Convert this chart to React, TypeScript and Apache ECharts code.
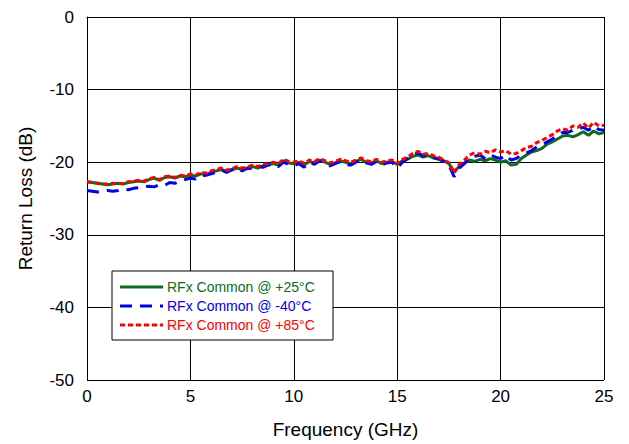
import React, { useEffect, useRef } from "react";
import * as echarts from "echarts";

const freqGHz: number[] = Array.from({ length: 101 }, (_, i) => i * 0.25);

const rl25: number[] = [
  -22.7, -22.8, -22.9, -23.0, -23.1, -23.0, -22.9, -23.0, -22.8, -22.7, -22.6, -22.7,
  -22.4, -22.2, -22.5, -22.1, -22.0, -22.2, -21.9, -22.0, -21.8, -21.9, -21.6, -21.7,
  -21.4, -21.2, -21.0, -21.3, -21.1, -20.8, -21.0, -20.9, -20.6, -20.8, -20.5, -20.4,
  -20.2, -20.4, -19.8, -20.1, -20.2, -20.0, -20.4, -19.9, -20.1, -19.7, -20.0, -20.3,
  -20.1, -19.8, -20.0, -20.2, -19.9, -19.6, -20.0, -20.1, -19.8, -20.2, -20.0, -19.9,
  -20.3, -19.8, -19.6, -19.2, -19.0, -19.3, -19.1, -19.4, -19.6, -19.8, -20.2, -21.3,
  -20.6, -20.1, -19.7, -19.9, -19.6, -19.8, -19.5, -19.7, -20.0, -19.8, -20.4, -20.3,
  -19.5, -19.0, -18.6, -18.4, -18.1, -17.5, -17.2, -16.8, -16.4, -16.3, -16.5, -16.2,
  -15.8, -16.3, -15.7, -16.1, -15.9,
];

const rlMinus40: number[] = [
  -23.9, -24.0, -24.1, -24.0, -23.9, -24.0, -23.9, -23.7, -23.8, -23.6, -23.5, -23.4,
  -23.3, -23.4, -23.1, -23.2, -22.8, -22.9, -22.6, -22.4, -22.2, -22.3, -21.9, -21.8,
  -21.6, -21.4, -21.1, -21.4, -21.0, -20.9, -21.2, -20.8, -20.9, -20.5, -20.7, -20.4,
  -20.3, -20.6, -20.0, -20.3, -20.5, -20.2, -20.7, -20.0, -20.3, -19.8, -20.2, -20.5,
  -20.2, -19.9, -20.3, -20.4, -20.0, -19.7, -20.1, -20.3, -19.9, -20.4, -20.1, -20.0,
  -20.8, -20.0, -19.5, -19.0, -18.7, -19.1, -19.0, -19.4, -19.5, -19.9, -20.4, -22.0,
  -20.8, -20.2, -19.4, -19.2, -19.0, -19.5, -19.0, -19.3, -19.5, -19.0, -19.7, -19.5,
  -19.0, -18.7, -18.4, -17.9, -17.6, -17.2, -16.8, -16.3, -15.9, -15.9, -15.6, -15.4,
  -15.2, -15.6, -15.0, -15.5, -15.6,
];

const rl85: number[] = [
  -22.7, -22.8, -22.9, -23.0, -23.0, -22.9, -23.0, -22.9, -22.7, -22.6, -22.5, -22.6,
  -22.3, -22.1, -22.4, -22.0, -21.9, -22.1, -21.8, -21.9, -21.6, -21.8, -21.4, -21.5,
  -21.2, -21.0, -20.8, -21.1, -20.9, -20.6, -20.8, -20.7, -20.4, -20.6, -20.3, -20.2,
  -20.0, -20.2, -19.6, -19.9, -20.0, -19.8, -20.2, -19.7, -19.9, -19.5, -19.8, -20.1,
  -19.9, -19.6, -19.8, -20.0, -19.7, -19.4, -19.8, -19.9, -19.6, -20.0, -19.8, -19.7,
  -20.2, -19.6, -19.3, -18.8, -18.5, -18.9, -18.8, -19.1, -19.3, -19.7, -20.1, -21.5,
  -20.3, -19.7, -19.0, -18.7, -18.9, -18.5, -18.7, -18.3, -18.6, -18.4, -18.9, -18.8,
  -18.4, -18.0, -17.8, -17.3, -17.0, -16.6, -16.2, -15.7, -15.4, -15.6, -15.0, -15.2,
  -14.6, -15.3, -14.5, -15.0, -14.9,
];

const seriesNames = ["RFx Common @ +25°C", "RFx Common @ -40°C", "RFx Common @ +85°C"];
const seriesColors = ["#0d6b20", "#0000ee", "#ff0000"];

export default function App() {
  const ref = useRef<HTMLDivElement>(null);
  useEffect(() => {
    if (!ref.current) return;
    const chart = echarts.init(ref.current, null, { renderer: "svg" });
    const font = "Liberation Sans, Arial, sans-serif";
    const mk = (vals: number[]) => freqGHz.map((f, i) => [f, vals[i]]);
    const dashes: any[] = ["solid", [12, 8], [5, 3]];
    const allData = [rl25, rlMinus40, rl85];
    const legendY = [287, 306, 325];
    chart.setOption({
      animation: false,
      backgroundColor: "#fff",
      grid: { left: 87, right: 25, top: 17, bottom: 64, containLabel: false },
      xAxis: {
        type: "value",
        min: 0,
        max: 25,
        interval: 5,
        name: "Frequency (GHz)",
        nameLocation: "middle",
        nameGap: 40,
        nameTextStyle: { fontFamily: font, fontSize: 19, color: "#000" },
        axisLine: { lineStyle: { color: "#000", width: 1 } },
        axisTick: { show: false },
        axisLabel: { fontFamily: font, fontSize: 17, color: "#000", margin: 8 },
        splitLine: { show: true, lineStyle: { color: "#000", width: 1 } },
      },
      yAxis: {
        type: "value",
        min: -50,
        max: 0,
        interval: 10,
        name: "Return Loss (dB)",
        nameLocation: "middle",
        nameGap: 52,
        nameRotate: 90,
        nameTextStyle: { fontFamily: font, fontSize: 19, color: "#000" },
        axisLine: { show: true, lineStyle: { color: "#000", width: 1 } },
        axisTick: { show: false },
        axisLabel: { fontFamily: font, fontSize: 17, color: "#000", margin: 13 },
        splitLine: { show: true, lineStyle: { color: "#000", width: 1 } },
      },
      series: allData.map((vals, k) => ({
        type: "line",
        name: seriesNames[k],
        data: mk(vals),
        showSymbol: false,
        symbol: "none",
        lineStyle: { color: seriesColors[k], width: 3, type: dashes[k] },
        z: 2 + k,
      })),
      graphic: [
        {
          type: "rect",
          shape: { x: 112, y: 271, width: 221, height: 69 },
          style: { fill: "#fff", stroke: "#000", lineWidth: 1 },
          z: 100,
        },
        ...seriesNames.flatMap((name, k) => [
          {
            type: "line",
            shape: { x1: 120, y1: legendY[k], x2: 163, y2: legendY[k] },
            style: {
              stroke: seriesColors[k],
              lineWidth: 3,
              lineDash: k === 0 ? null : dashes[k],
            },
            z: 101,
          },
          {
            type: "text",
            x: 167,
            y: legendY[k],
            style: {
              text: name,
              fill: seriesColors[k],
              font: `14px ${font}`,
              verticalAlign: "middle",
            },
            z: 101,
          },
        ]),
      ],
    });
    return () => chart.dispose();
  }, []);
  return (
    <div
      ref={ref}
      style={{ position: "absolute", left: 0, top: 0, width: 629, height: 444 }}
    />
  );
}
